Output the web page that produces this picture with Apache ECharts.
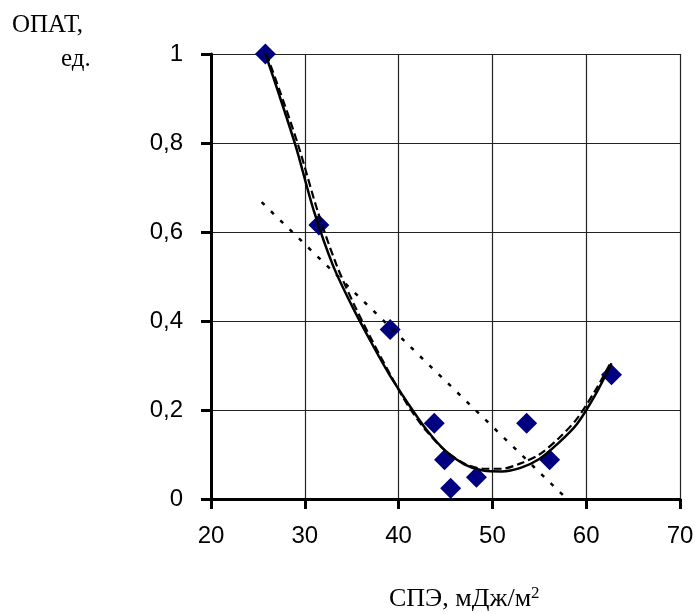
<!DOCTYPE html>
<html><head><meta charset="utf-8">
<script src="https://cdn.jsdelivr.net/npm/echarts@6/dist/echarts.min.js"></script>
<style>html,body{margin:0;padding:0;background:#fff}#c{width:697px;height:614px}</style>
</head><body><div id="c"></div>
<script>
// Data
const pointsX = [25.8, 31.5, 39.1, 43.8, 44.9, 45.55, 48.3, 53.65, 56.1, 62.7];
const pointsY = [1.0, 0.616, 0.381, 0.17, 0.088, 0.024, 0.049, 0.17, 0.088, 0.279];

const solidX = [25.8, 27, 29, 31, 33, 35, 37, 39, 41, 43, 45, 47, 49, 51, 53, 55, 57, 59, 61, 62.7];
const solidY = [1.0, 0.925, 0.795, 0.645, 0.525, 0.435, 0.355, 0.28, 0.215, 0.155, 0.108, 0.078, 0.064, 0.062, 0.07, 0.09, 0.125, 0.168, 0.235, 0.305];

const dashX = [25.9, 27.2, 29.3, 31.4, 33.4, 35.3, 37.2, 39.1, 41, 43, 45, 47, 49, 51, 53, 55, 57, 59, 61, 62.7];
const dashY = [1.0, 0.925, 0.795, 0.645, 0.525, 0.435, 0.355, 0.28, 0.21, 0.152, 0.108, 0.08, 0.068, 0.068, 0.08, 0.1, 0.135, 0.18, 0.245, 0.31];

const linX = [25.4, 57.7];
const linY = [0.667, 0.005];

const xTicks = [20, 30, 40, 50, 60, 70];
const yTicks = [0, 0.2, 0.4, 0.6, 0.8, 1];

const zip = (a, b) => a.map((v, i) => [v, b[i]]);

const chart = echarts.init(document.getElementById('c'), null, {renderer: 'canvas'});
chart.setOption({
  animation: false,
  backgroundColor: '#fff',
  grid: {left: 211, right: 17, top: 54, bottom: 115, containLabel: false},
  xAxis: {
    type: 'value', min: xTicks[0], max: xTicks[xTicks.length - 1], interval: 10,
    axisLine: {show: true, onZero: false, lineStyle: {color: '#000', width: 3}},
    axisTick: {show: true, length: 10, lineStyle: {color: '#000', width: 3}},
    axisLabel: {margin: 25, color: '#000', fontFamily: 'Liberation Sans, Arial', fontSize: 24},
    splitLine: {show: true, lineStyle: {color: '#222', width: 1.2}}
  },
  yAxis: {
    type: 'value', min: yTicks[0], max: yTicks[yTicks.length - 1], interval: 0.2,
    axisLine: {show: true, onZero: false, lineStyle: {color: '#000', width: 3}},
    axisTick: {show: true, length: 10, lineStyle: {color: '#000', width: 3}},
    axisLabel: {margin: 28, color: '#000', fontFamily: 'Liberation Sans, Arial', fontSize: 24,
      formatter: v => String(Math.round(v * 10) / 10).replace('.', ',')},
    splitLine: {show: true, lineStyle: {color: '#222', width: 1.2}}
  },
  graphic: [
    {type: 'text', left: 12, top: 13, style: {text: 'ОПАТ,', font: '25px "Liberation Serif", "Times New Roman", serif', fill: '#000'}},
    {type: 'text', left: 61, top: 47, style: {text: 'ед.', font: '25px "Liberation Serif", "Times New Roman", serif', fill: '#000'}},
    {type: 'text', left: 389, top: 585, style: {
      text: '{a|СПЭ, мДж/м}{s|2}',
      rich: {
        a: {font: '26px "Liberation Serif", "Times New Roman", serif', fill: '#000'},
        s: {font: '17px "Liberation Serif", "Times New Roman", serif', fill: '#000', verticalAlign: 'top', padding: [0, 0, 12, 0]}
      }
    }}
  ],
  series: [
    {type: 'scatter', data: zip(pointsX, pointsY), symbol: 'diamond', symbolSize: 21,
     itemStyle: {color: '#000080', opacity: 1}, z: 1},
    {type: 'line', data: zip(linX, linY), showSymbol: false, symbol: 'none',
     lineStyle: {color: '#000', width: 2.5, type: [4, 9]}, z: 3},
    {type: 'line', data: zip(dashX, dashY), showSymbol: false, symbol: 'none', smooth: 0.3,
     lineStyle: {color: '#000', width: 2.2, type: [8, 4]}, z: 3},
    {type: 'line', data: zip(solidX, solidY), showSymbol: false, symbol: 'none', smooth: 0.3,
     lineStyle: {color: '#000', width: 2.5}, z: 4}
  ]
});
</script></body></html>
